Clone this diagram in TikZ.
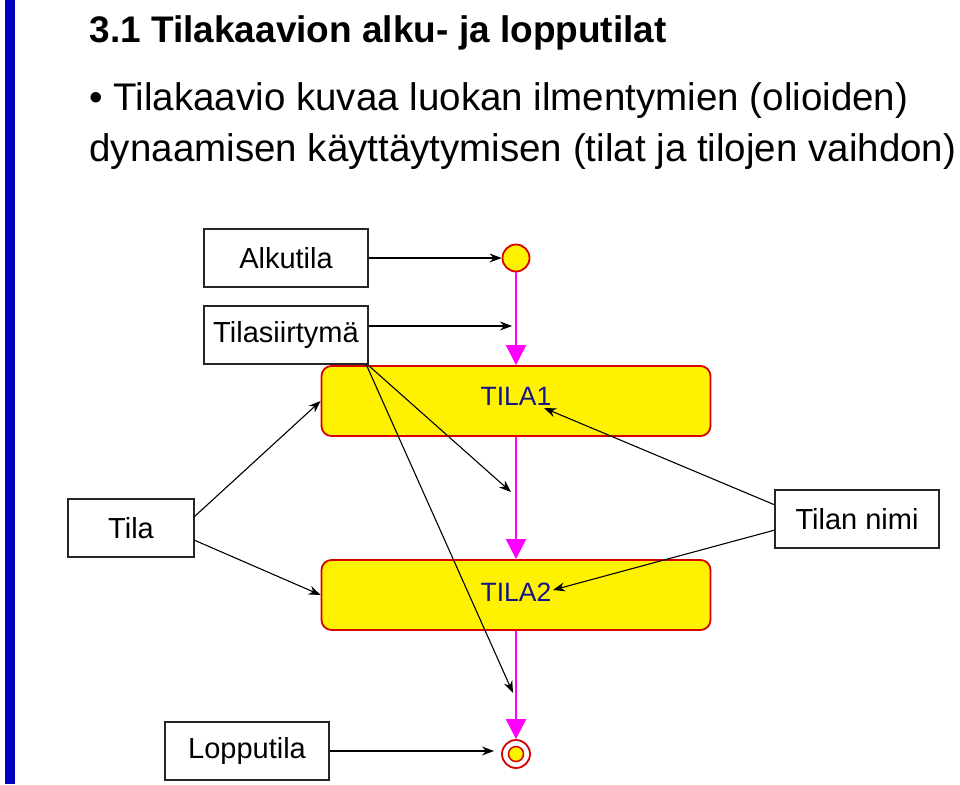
\documentclass[tikz,border=0pt]{standalone}
\usepackage{fontspec}
\setmainfont{Liberation Sans}
\usetikzlibrary{arrows.meta}
\definecolor{mag}{RGB}{255,0,255}
\definecolor{dblue}{RGB}{20,20,140}
\begin{document}
\begin{tikzpicture}[x=1pt,y=-1pt,
  lbl/.style={draw=black!85,fill=white,line width=1.1pt,minimum height=58pt,font=\fontsize{29}{33}\selectfont,inner sep=0pt},
  state/.style={draw=red!85!black,fill=yellow,line width=1.8pt,rounded corners=10pt,minimum width=389pt,minimum height=70pt,inner sep=0pt},
  ptr/.style={-{Stealth[length=12pt,width=9pt]},line width=1.1pt},
  flow/.style={draw=mag,line width=2pt,-{Triangle[length=20pt,width=20pt]}}]
\useasboundingbox (0,0) rectangle (960,784);
\fill[blue!75!black] (5,0) rectangle (15,784);
\node[anchor=west,font=\bfseries\fontsize{37}{40}\selectfont] (title) at (86,33) {3.1 Tilakaavion alku- ja lopputilat};
\node[anchor=west,font=\fontsize{38.5}{44}\selectfont] (b1) at (86,101) {\textbullet\ Tilakaavio kuvaa luokan ilmentymien (olioiden)};
\node[anchor=west,font=\fontsize{38.5}{44}\selectfont] (b2) at (86,152) {dynaamisen käyttäytymisen (tilat ja tilojen vaihdon)};

\node[lbl,minimum width=164pt] (alku) at (286,258) {Alkutila};
\node[lbl,minimum width=164pt] (siirt) at (286,335) {Tilasiirtymä};
\node[lbl,minimum width=126pt] (tila) at (131,528) {Tila};
\node[lbl,minimum width=164pt] (nimi) at (857,519) {Tilan nimi};
\node[lbl,minimum width=164pt] (loppu) at (247,751) {Lopputila};

\node[circle,draw=red!85!black,fill=yellow,line width=1.8pt,minimum size=27pt,inner sep=0pt] (start) at (516,258) {};
\node[state] (t1) at (516,401) {};
\node[font=\fontsize{26.5}{30}\selectfont,text=dblue] (t1l) at (516,396) {TILA1};
\node[state] (t2) at (516,595) {};
\node[font=\fontsize{26.5}{30}\selectfont,text=dblue] (t2l) at (516,592) {TILA2};
\node[circle,draw=red!85!black,fill=white,line width=1.8pt,minimum size=28pt,inner sep=0pt] (end) at (516,754) {};
\node[circle,draw=red!85!black,fill=yellow,line width=1.5pt,minimum size=15pt,inner sep=0pt] (endin) at (516,754) {};

\draw[flow] (start) -- (t1);
\draw[flow] (t1) -- (t2);
\draw[flow] (t2) -- (end);

\coordinate (c1) at (512,326);
\coordinate (c2) at (511,492);
\coordinate (c3) at (513,693);
\coordinate (c4) at (494,751);
\draw[ptr] (alku.east) -- (start);
\draw[ptr] (siirt.east |- c1) -- (c1);
\draw[ptr] (loppu.east |- c4) -- (c4);
\draw[ptr] (368,365) -- (c2);
\draw[ptr] (366,364) -- (c3);
\draw[ptr] (194,517) -- (t1.west);
\draw[ptr] (194,540) -- (t2.west);
\draw[ptr] (775,505) -- (544,408);
\draw[ptr] (775,530) -- (553,590);
\end{tikzpicture}
\end{document}
